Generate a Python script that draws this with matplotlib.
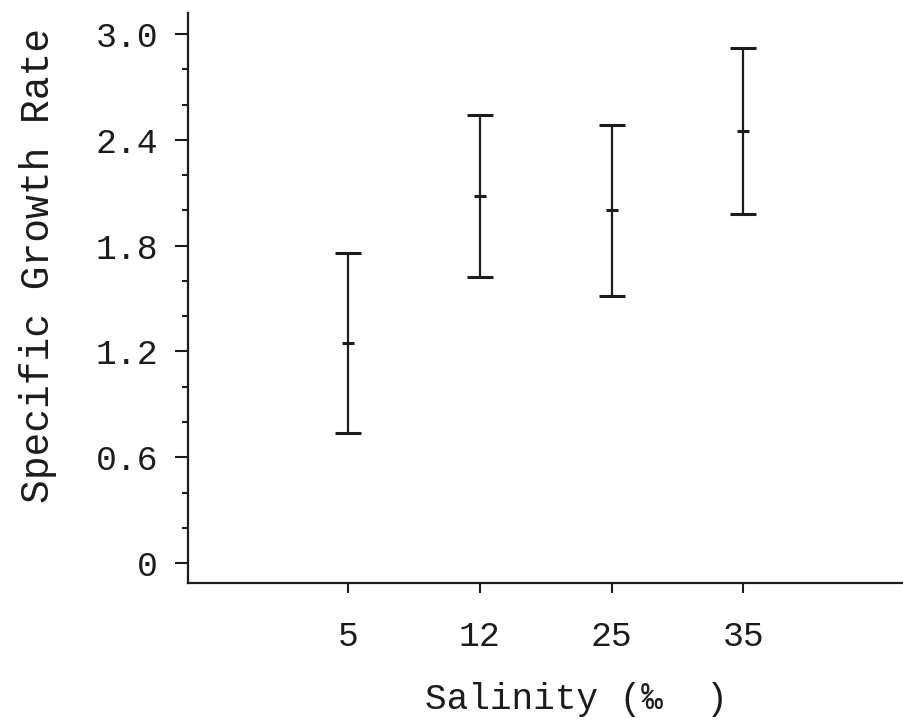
import matplotlib.pyplot as plt
from matplotlib.ticker import MultipleLocator

# Salinity treatments and growth rate (mean +/- error)
salinity = ["5", "12", "25", "35"]
growth_mean = [1.25, 2.08, 2.00, 2.45]
growth_err = [0.51, 0.46, 0.485, 0.47]

ink = "#1c1c1c"
plt.rcParams['font.family'] = ['Liberation Mono', 'DejaVu Sans Mono']

fig = plt.figure(figsize=(9.04, 7.24), dpi=100)
ax = fig.add_axes([0.208, 0.1948, 0.792, 0.787])

x = range(len(salinity))
ax.errorbar(x, growth_mean, yerr=growth_err, fmt='_', color=ink,
            markersize=9, markeredgewidth=2.2, elinewidth=1.6,
            capsize=9.5, capthick=2)

ax.set_xlim(-1.215, 4.22)
ax.set_ylim(-0.113, 3.119)
ax.set_xticks(list(x))
ax.set_xticklabels(salinity)
ax.set_yticks([0, 0.6, 1.2, 1.8, 2.4, 3.0])
ax.set_yticklabels(["0", "0.6", "1.2", "1.8", "2.4", "3.0"])
ax.yaxis.set_minor_locator(MultipleLocator(0.2))

ax.spines['top'].set_visible(False)
ax.spines['right'].set_visible(False)
for side in ['left', 'bottom']:
    ax.spines[side].set_linewidth(1.6)
    ax.spines[side].set_color(ink)

ax.tick_params(axis='y', which='major', length=9.5, width=1.5, pad=12,
               labelsize=25, colors=ink)
ax.tick_params(axis='y', which='minor', length=4, width=1.5, colors=ink)
ax.tick_params(axis='x', which='major', length=7, width=1.5, pad=20,
               labelsize=25, colors=ink)

ax.set_xlabel("Salinity (‰  )", fontsize=26, color=ink)
ax.xaxis.set_label_coords(0.542, -0.174)
ax.set_ylabel("Specific Growth Rate", fontsize=28.5, color=ink)
ax.yaxis.set_label_coords(-0.183, 0.557)

fig.savefig("out.png", dpi=100, facecolor="white")
